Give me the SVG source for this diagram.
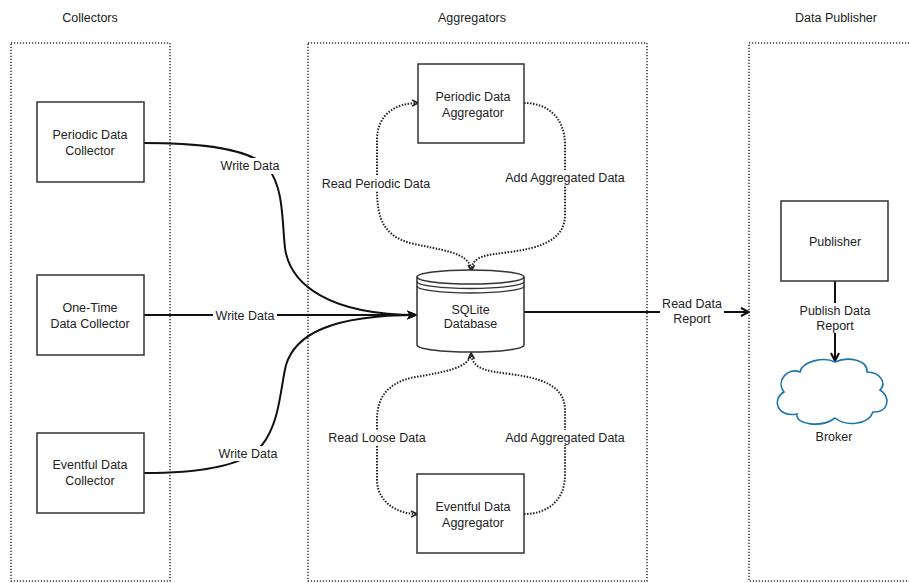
<svg xmlns="http://www.w3.org/2000/svg" width="909" height="583" viewBox="0 0 909 583">
<style>
text{font-family:"Liberation Sans",Arial,sans-serif;font-size:12.5px;fill:#222;text-anchor:middle}
.cont{fill:none;stroke:#333;stroke-width:1.5;stroke-dasharray:1.2,1.8}
.box{fill:#fff;stroke:#333;stroke-width:1.5}
.solid{fill:none;stroke:#111;stroke-width:2}
.dot{fill:none;stroke:#222;stroke-width:2;stroke-dasharray:1.5,1.5}
.bg{fill:#fff}
</style>
<defs>
<marker id="fill" viewBox="0 0 12 10" refX="11" refY="5" markerWidth="11" markerHeight="10" markerUnits="userSpaceOnUse" orient="auto">
<path d="M0,0 L12,5 L0,10 L3,5 Z" fill="#111"/>
</marker>
<marker id="open" viewBox="0 0 10 10" refX="9" refY="5" markerWidth="10" markerHeight="10" markerUnits="userSpaceOnUse" orient="auto">
<path d="M1,1 L9,5 L1,9" fill="none" stroke="#111" stroke-width="2"/>
</marker>
<marker id="dopen" viewBox="0 0 8 8" refX="7" refY="4" markerWidth="8" markerHeight="8" markerUnits="userSpaceOnUse" orient="auto">
<path d="M1,1 L7,4 L1,7" fill="none" stroke="#222" stroke-width="1.8"/>
</marker>
</defs>
<rect width="909" height="583" fill="#fff"/>

<g id="containers">
<rect class="cont" x="11" y="43" width="159" height="538"/>
<rect class="cont" x="308" y="43" width="339" height="538"/>
<rect class="cont" x="749" y="43" width="200" height="538"/>
<text x="90" y="22">Collectors</text>
<text x="472" y="22">Aggregators</text>
<text x="836" y="22">Data Publisher</text>
</g>

<g id="connectors">
<path class="solid" d="M144,143 C200,143 250,148 268,168 C284,188 282,222 285,248 C290,285 330,315 417,315" marker-end="url(#fill)"/>
<path class="solid" d="M144,315 L417,315" marker-end="url(#fill)"/>
<path class="solid" d="M144,473 C200,473 245,466 262,445 C280,422 280,390 286,365 C295,335 330,315 417,315" marker-end="url(#fill)"/>
<path class="solid" d="M524,312 L749,312" marker-end="url(#open)"/>
<path class="solid" d="M835,281 L835,361" marker-end="url(#open)"/>
<path class="dot" d="M471,269 C469,252 440,250 410,243 C385,236 377,220 377,190 L377,140 C377,115 395,103 418,103" marker-end="url(#dopen)"/>
<path class="dot" d="M524,103 C548,103 565,118 565,145 L565,215 C565,240 540,248 510,252 C488,255 472,255 471,271" marker-end="url(#dopen)"/>
<path class="dot" d="M471,354 C469,368 445,372 415,377 C390,382 377,395 377,420 L377,480 C377,500 395,514 417,514" marker-end="url(#dopen)"/>
<path class="dot" d="M524,514 C548,514 565,500 565,475 L565,410 C565,385 540,378 510,374 C488,371 472,370 471,353" marker-end="url(#dopen)"/>
<rect class="bg" x="218" y="158" width="64" height="16"/>
<text x="250" y="170">Write Data</text>
<rect class="bg" x="213" y="308" width="64" height="15"/>
<text x="245" y="320">Write Data</text>
<rect class="bg" x="216" y="446" width="64" height="15"/>
<text x="248" y="458">Write Data</text>
<rect class="bg" x="320" y="176" width="112" height="15"/>
<text x="376" y="188">Read Periodic Data</text>
<rect class="bg" x="503" y="170" width="124" height="15"/>
<text x="565" y="182">Add Aggregated Data</text>
<rect class="bg" x="326" y="430" width="102" height="15"/>
<text x="377" y="442">Read Loose Data</text>
<rect class="bg" x="503" y="430" width="124" height="15"/>
<text x="565" y="442">Add Aggregated Data</text>
<rect class="bg" x="660" y="297" width="64" height="30"/>
<text x="692" y="308">Read Data</text>
<text x="692" y="323">Report</text>
<rect class="bg" x="797" y="303" width="76" height="30"/>
<text x="835" y="315">Publish Data</text>
<text x="835" y="330">Report</text>
</g>

<g id="periodic-collector">
<rect class="box" x="37" y="102" width="107" height="80"/>
<text x="90" y="139">Periodic Data</text>
<text x="90" y="155">Collector</text>
</g>
<g id="onetime-collector">
<rect class="box" x="37" y="275" width="107" height="80"/>
<text x="90" y="312">One-Time</text>
<text x="90" y="328">Data Collector</text>
</g>
<g id="eventful-collector">
<rect class="box" x="37" y="433" width="107" height="80"/>
<text x="90" y="469">Eventful Data</text>
<text x="90" y="485">Collector</text>
</g>
<g id="periodic-aggregator">
<rect class="box" x="418" y="64" width="106" height="79"/>
<text x="473" y="101">Periodic Data</text>
<text x="473" y="117">Aggregator</text>
</g>
<g id="eventful-aggregator">
<rect class="box" x="417" y="474" width="107" height="79"/>
<text x="473" y="511">Eventful Data</text>
<text x="473" y="527">Aggregator</text>
</g>
<g id="sqlite-db">
<path class="box" d="M417,277 L417,345 A53.5,7 0 0 0 524,345 L524,277"/>
<ellipse class="box" cx="470.5" cy="277" rx="53.5" ry="7"/>
<path d="M417,281.5 A53.5,7 0 0 0 524,281.5 M417,286 A53.5,7 0 0 0 524,286" fill="none" stroke="#333" stroke-width="1.3"/>
<text x="470.5" y="314">SQLite</text>
<text x="470.5" y="328">Database</text>
</g>
<g id="publisher">
<rect class="box" x="781" y="201" width="107" height="80"/>
<text x="835" y="246">Publisher</text>
</g>
<g id="broker">
<path d="M800,372 C803,360 825,357 835,362 C848,356 868,360 867,372 C880,372 887,383 880,390 C891,396 889,413 873,412 C868,426 845,426 835,418 C822,428 795,425 797,414 C776,418 772,398 784,392 C775,380 789,367 800,372 Z" fill="#fff" stroke="#1b75a8" stroke-width="1.6"/>
<text x="834" y="441">Broker</text>
</g>
</svg>
